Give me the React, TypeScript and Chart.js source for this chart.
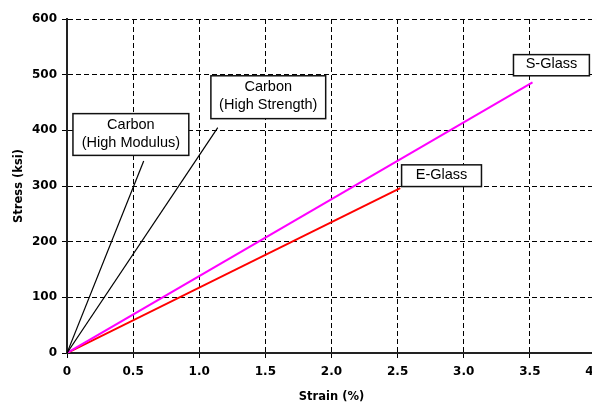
import React, { useEffect, useRef } from 'react';
import { Chart, registerables } from 'chart.js';

Chart.register(...registerables);

// ---- data ----
const strainMin = 0;
const strainMax = 4;
const strainStep = 0.5;
const stressMin = 0;
const stressMax = 600;
const stressStep = 100;

const seriesNames = ['Carbon (High Modulus)', 'Carbon (High Strength)', 'S-Glass', 'E-Glass'];
const strainStart = [0, 0, 0, 0];
const stressStart = [0, 0, 0, 0];
const strainEnd = [0.58, 1.14, 3.52, 2.52];
const stressEnd = [345, 405, 486, 296];

const labelLines = [['Carbon', '(High Modulus)'], ['Carbon', '(High Strength)'], ['S-Glass'], ['E-Glass']];

// ---- annotation placement (data units) ----
const labelBoxX = [[0.045, 0.921], [1.088, 1.956], [3.376, 3.95], [2.53, 3.134]];
const labelBoxY = [[355, 430], [421, 498], [498, 536], [299, 338]];

// ---- styles ----
const seriesColors = ['#000000', '#000000', '#FF00FF', '#FF0000'];
const seriesWidths = [1.2, 1.2, 2, 2];
const tickFont = { family: '"DejaVu Sans", sans-serif', size: 12, weight: 'bold' as const };
const titleFont = { family: '"DejaVu Sans", sans-serif', size: 11.5, weight: 'bold' as const };
const labelFontCss = '14.5px "Liberation Sans", Arial, sans-serif';

const boxPlugin = {
  id: 'labelBoxes',
  afterDatasetsDraw(chart: any) {
    const { ctx, scales } = chart;
    const xs = scales.x;
    const ys = scales.y;
    ctx.save();
    labelLines.forEach((lines, i) => {
      const x1 = xs.getPixelForValue(labelBoxX[i][0]);
      const x2 = xs.getPixelForValue(labelBoxX[i][1]);
      const y1 = ys.getPixelForValue(labelBoxY[i][1]);
      const y2 = ys.getPixelForValue(labelBoxY[i][0]);
      ctx.fillStyle = '#ffffff';
      ctx.fillRect(x1, y1, x2 - x1, y2 - y1);
      ctx.strokeStyle = '#111111';
      ctx.lineWidth = 1.5;
      ctx.setLineDash([]);
      ctx.strokeRect(x1, y1, x2 - x1, y2 - y1);
      ctx.fillStyle = '#000000';
      ctx.font = labelFontCss;
      ctx.textAlign = 'center';
      ctx.textBaseline = 'middle';
      const cx = (x1 + x2) / 2;
      const cy = (y1 + y2) / 2 - 1;
      const lh = 18;
      const n = lines.length;
      lines.forEach((t, k) => {
        ctx.fillText(t, cx, cy + (k - (n - 1) / 2) * lh);
      });
    });
    ctx.restore();
  },
};

export default function App() {
  const ref = useRef<HTMLCanvasElement | null>(null);

  useEffect(() => {
    if (!ref.current) return;
    const datasets = seriesNames.map((name, i) => ({
      label: name,
      data: [
        { x: strainStart[i], y: stressStart[i] },
        { x: strainEnd[i], y: stressEnd[i] },
      ],
      borderColor: seriesColors[i],
      backgroundColor: seriesColors[i],
      borderWidth: seriesWidths[i],
      pointRadius: 0,
      showLine: true,
      fill: false,
      tension: 0,
    }));

    const chart = new Chart(ref.current, {
      type: 'scatter',
      data: { datasets },
      plugins: [boxPlugin],
      options: {
        animation: false,
        responsive: false,
        devicePixelRatio: 1,
        layout: { padding: { top: 19, right: 24, left: 0, bottom: 0 } },
        plugins: {
          legend: { display: false },
          tooltip: { enabled: false },
        },
        scales: {
          x: {
            type: 'linear',
            min: strainMin,
            max: strainMax,
            afterFit: (s: any) => { s.height = 54; },
            ticks: { stepSize: strainStep, font: tickFont, color: '#000', padding: 7, maxRotation: 0 },
            grid: { color: '#000', lineWidth: 1, tickLength: 5, tickColor: '#000', tickWidth: 1 },
            border: { display: true, color: '#222', width: 2, dash: [5, 3] },
            title: { display: true, text: 'Strain (%)', font: titleFont, color: '#000', padding: { top: 0, bottom: 3 } },
          },
          y: {
            type: 'linear',
            min: stressMin,
            max: stressMax,
            afterFit: (s: any) => { s.width = 67; },
            ticks: { stepSize: stressStep, font: tickFont, color: '#000', padding: 5 },
            grid: { color: '#000', lineWidth: 1, tickLength: 5, tickColor: '#000', tickWidth: 1 },
            border: { display: true, color: '#222', width: 2, dash: [5, 3] },
            title: { display: true, text: 'Stress (ksi)', font: titleFont, color: '#000', padding: { top: 12, bottom: 0 } },
          },
        },
      },
    } as any);
    return () => chart.destroy();
  }, []);

  return (
    <div style={{ position: 'absolute', left: 0, top: 0, width: 592, height: 407, overflow: 'hidden', background: '#fff' }}>
      <canvas ref={ref} width={620} height={407} style={{ width: 620, height: 407, display: 'block' }} />
    </div>
  );
}
